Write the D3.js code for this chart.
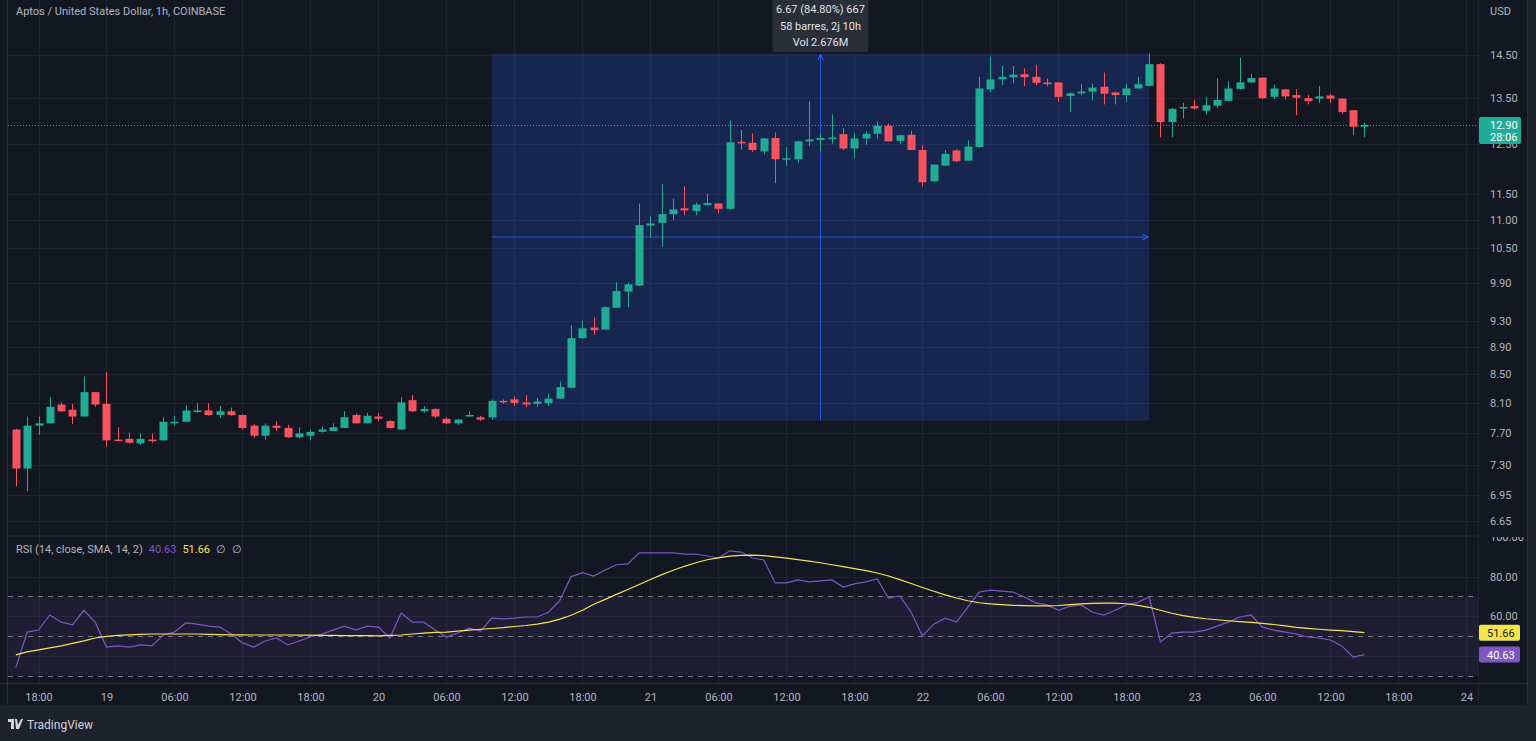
<!DOCTYPE html>
<html>
<head>
<meta charset="utf-8">
<script src="https://cdn.jsdelivr.net/npm/d3@7"></script>
<style>
  html, body { margin: 0; padding: 0; background: #131722; overflow: hidden; }
  svg { display: block; font-family: Roboto, "Noto Sans", sans-serif; }
</style>
</head>
<body>
<svg id="chart"></svg>
<script>
// one bar per hour, first bar = 16:00 on the 18th (hour -2 relative to 18:00)
const firstHour = -2;

const open = [
    7.75, 7.26, 7.80, 7.83, 8.08, 8.01, 7.92, 8.25, 8.09, 7.62,
    7.63, 7.57, 7.62, 7.61, 7.83, 7.85, 7.98, 8.00, 7.94, 7.99,
    7.94, 7.80, 7.67, 7.80, 7.77, 7.65, 7.67, 7.72, 7.73, 7.77,
    7.94, 7.83, 7.92, 7.86, 7.75, 8.14, 7.99, 8.02, 7.89, 7.83,
    7.93, 7.91, 7.91, 8.13, 8.15, 8.11, 8.09, 8.10, 8.16, 8.31,
    9.03, 9.19, 9.16, 9.50, 9.76, 9.86, 10.90, 10.95, 11.11, 11.22,
    11.17, 11.28, 11.31, 11.21, 12.54, 12.52, 12.34, 12.62, 12.18, 12.18,
    12.55, 12.58, 12.61, 12.70, 12.40, 12.61, 12.71, 12.88, 12.56, 12.69,
    12.37, 11.74, 12.05, 12.36, 12.15, 12.43, 13.69, 13.92, 13.97, 14.04,
    13.98, 13.85, 13.85, 13.54, 13.60, 13.64, 13.75, 13.62, 13.56, 13.71,
    13.77, 14.28, 12.96, 13.27, 13.31, 13.21, 13.32, 13.43, 13.70, 13.85,
    13.96, 13.52, 13.69, 13.56, 13.49, 13.48, 13.55, 13.48, 13.22, 12.86
];
const high = [
    7.76, 7.92, 7.92, 8.18, 8.11, 8.09, 8.47, 8.25, 8.53, 7.78,
    7.71, 7.70, 7.70, 7.91, 7.93, 8.07, 8.10, 8.10, 8.06, 8.04,
    7.95, 7.82, 7.83, 7.86, 7.81, 7.78, 7.75, 7.79, 7.83, 7.99,
    7.96, 7.97, 7.97, 7.87, 8.18, 8.21, 8.06, 8.03, 7.91, 7.89,
    7.99, 7.93, 8.15, 8.15, 8.19, 8.21, 8.17, 8.23, 8.40, 9.23,
    9.30, 9.35, 9.52, 9.91, 9.91, 11.31, 11.07, 11.68, 11.40, 11.64,
    11.33, 11.50, 11.32, 13.00, 12.79, 12.72, 12.62, 12.74, 12.43, 12.56,
    13.42, 12.72, 13.13, 12.83, 12.72, 12.76, 12.97, 12.93, 12.69, 12.78,
    12.47, 12.08, 12.37, 12.38, 12.57, 13.98, 14.46, 14.24, 14.24, 14.18,
    14.26, 13.94, 13.86, 13.62, 13.82, 13.82, 14.08, 13.64, 13.82, 13.98,
    14.54, 14.30, 13.27, 13.38, 13.45, 13.51, 13.94, 13.88, 14.44, 14.05,
    13.97, 13.80, 13.70, 13.69, 13.56, 13.77, 13.58, 13.48, 13.22, 12.95
];
const low = [
    7.05, 6.99, 7.68, 7.83, 7.98, 7.82, 7.92, 8.05, 7.53, 7.60,
    7.57, 7.55, 7.58, 7.61, 7.80, 7.85, 7.97, 7.93, 7.90, 7.93,
    7.75, 7.64, 7.62, 7.73, 7.64, 7.64, 7.61, 7.71, 7.73, 7.77,
    7.83, 7.83, 7.86, 7.76, 7.74, 7.98, 7.97, 7.90, 7.82, 7.81,
    7.92, 7.86, 7.88, 8.09, 8.06, 8.05, 8.05, 8.06, 8.16, 8.30,
    9.02, 9.08, 9.15, 9.50, 9.51, 9.85, 10.68, 10.52, 11.00, 11.09,
    11.09, 11.27, 11.13, 11.19, 12.38, 12.33, 12.28, 11.70, 12.04, 12.11,
    12.45, 12.34, 12.50, 12.37, 12.19, 12.48, 12.61, 12.55, 12.50, 12.37,
    11.64, 11.72, 12.04, 12.12, 12.15, 12.42, 13.63, 13.79, 13.83, 13.76,
    13.79, 13.76, 13.40, 13.18, 13.56, 13.44, 13.35, 13.35, 13.40, 13.71,
    13.76, 12.64, 12.64, 13.04, 13.23, 13.13, 13.27, 13.42, 13.69, 13.84,
    13.46, 13.47, 13.46, 13.11, 13.35, 13.38, 13.38, 13.14, 12.68, 12.64
];
const close = [
    7.26, 7.80, 7.83, 8.05, 7.99, 7.92, 8.25, 8.08, 7.61, 7.61,
    7.58, 7.63, 7.60, 7.85, 7.85, 8.00, 8.00, 7.94, 7.99, 7.94,
    7.77, 7.67, 7.80, 7.77, 7.65, 7.70, 7.72, 7.75, 7.78, 7.91,
    7.83, 7.93, 7.89, 7.77, 8.11, 7.99, 8.02, 7.92, 7.83, 7.88,
    7.94, 7.88, 8.13, 8.11, 8.10, 8.08, 8.12, 8.16, 8.32, 9.03,
    9.18, 9.15, 9.51, 9.77, 9.88, 10.91, 10.94, 11.11, 11.20, 11.18,
    11.29, 11.32, 11.21, 12.53, 12.51, 12.37, 12.61, 12.18, 12.20, 12.55,
    12.59, 12.62, 12.63, 12.40, 12.61, 12.71, 12.88, 12.55, 12.68, 12.37,
    11.72, 12.07, 12.29, 12.14, 12.44, 13.71, 13.92, 13.98, 14.03, 13.97,
    13.84, 13.81, 13.52, 13.60, 13.64, 13.73, 13.59, 13.56, 13.71, 13.81,
    14.28, 12.96, 13.25, 13.29, 13.26, 13.33, 13.45, 13.71, 13.85, 13.95,
    13.49, 13.71, 13.53, 13.50, 13.42, 13.53, 13.48, 13.18, 12.86, 12.90
];
const rsi = [
    34.0, 52.0, 53.0, 60.6, 57.0, 55.6, 63.0, 57.0, 44.4, 45.0,
    44.4, 45.5, 45.0, 50.5, 52.0, 56.6, 56.0, 55.0, 54.5, 51.0,
    46.5, 44.4, 47.5, 49.0, 45.5, 47.5, 49.5, 51.0, 53.0, 55.0,
    53.0, 55.0, 54.5, 49.0, 61.6, 57.0, 57.0, 53.0, 49.5, 51.5,
    54.0, 52.5, 59.0, 58.6, 59.0, 59.6, 59.6, 62.0, 68.0, 80.0,
    82.0, 80.3, 83.3, 86.0, 86.4, 92.0, 92.0, 92.0, 92.0, 91.4,
    91.4, 90.4, 89.4, 93.0, 92.4, 89.4, 88.4, 76.8, 76.8, 78.3,
    77.3, 77.8, 78.3, 74.7, 76.3, 77.3, 78.8, 69.2, 70.2, 62.0,
    50.0, 56.0, 59.0, 57.0, 64.6, 72.2, 73.2, 72.7, 72.2, 69.7,
    66.7, 65.7, 63.0, 65.0, 65.7, 62.0, 60.6, 63.0, 65.7, 67.0,
    69.7, 47.0, 51.5, 52.0, 52.0, 53.0, 55.0, 57.0, 59.6, 60.6,
    54.5, 53.0, 52.0, 51.0, 49.5, 49.0, 48.0, 45.0, 39.4, 40.63
];
const rsiSma = [
    40.5, 42.0, 43.0, 44.0, 45.0, 46.3, 47.5, 49.0, 49.8, 50.3,
    50.6, 50.8, 51.0, 51.0, 51.0, 51.0, 51.0, 50.8, 50.7, 50.6,
    50.6, 50.5, 50.5, 50.5, 50.5, 50.4, 50.4, 50.3, 50.3, 50.2,
    50.2, 50.2, 50.1, 50.3, 50.5, 51.0, 51.5, 51.8, 52.0, 52.5,
    53.0, 53.4, 53.8, 54.2, 54.8, 55.3, 56.0, 57.0, 58.5, 60.5,
    63.0, 66.0, 68.5, 71.0, 73.5, 76.0, 78.5, 81.0, 83.2, 85.2,
    87.0, 88.5, 89.5, 90.3, 90.7, 90.8, 90.6, 90.0, 89.3, 88.6,
    87.8, 87.0, 86.0, 85.0, 84.0, 83.0, 81.8, 80.3, 78.5, 76.5,
    74.5, 72.6, 70.8, 69.2, 67.8, 66.8, 66.2, 65.8, 65.5, 65.3,
    65.2, 65.2, 65.4, 65.8, 66.2, 66.5, 66.6, 66.6, 66.3, 65.5,
    64.5, 63.0, 61.5, 60.3, 59.4, 58.7, 58.2, 57.7, 57.3, 56.9,
    56.4, 55.8, 55.1, 54.4, 53.9, 53.4, 53.0, 52.7, 52.2, 51.66
];

const priceTicks = [14.5, 13.5, 12.5, 11.5, 11.0, 10.5, 9.9, 9.3, 8.9, 8.5, 8.1, 7.7, 7.3, 6.95, 6.65];
const rsiTicks = [100, 80, 60, 40];
const timeTickHours = [0, 6, 12, 18, 24, 30, 36, 42, 48, 54, 60, 66, 72, 78, 84, 90, 96, 102, 108, 114, 120, 126];
const timeTickLabels = ["18:00", "19", "06:00", "12:00", "18:00", "20", "06:00", "12:00", "18:00", "21", "06:00",
                        "12:00", "18:00", "22", "06:00", "12:00", "18:00", "23", "06:00", "12:00", "18:00", "24"];

// price range tool
const rangeFromHour = 40, rangeToHour = 98;
const rangeLow = 7.866, rangeHigh = 14.536;
const rangeText = ["6.67 (84.80%) 667", "58 barres, 2j 10h", "Vol 2.676M"];

const title = "Aptos / United States Dollar, 1h, COINBASE";
const lastPrice = 12.90, countdown = "28:06";

// layout
const W = 1536, H = 741;
const left = 8, right = 1478;
const mainTop = 0, mainBottom = 535;
const rsiTop = 537, rsiBottom = 683;
const axisBottom = 705;

const upColor = "#22ab94", downColor = "#f7525f";
const textColor = "#b2b5be", gridColor = "#1f2431";

const bars = open.map((o, i) => ({
    hour: firstHour + i, open: o, high: high[i], low: low[i], close: close[i],
    rsi: rsi[i], sma: rsiSma[i]
}));

const x = d3.scaleLinear().domain([0, 126]).range([38.5, 38.5 + 126 * 11.333]);
const y = d3.scaleLog().domain([6.65, 14.5]).range([521, 55]);
const yr = d3.scaleLinear().domain([0, 100]).range([735, 537]);

const svg = d3.select("#chart").attr("width", W).attr("height", H);

// backgrounds
svg.append("rect").attr("width", W).attr("height", H).attr("fill", "#1e222d");
svg.append("rect").attr("x", 0).attr("y", 0).attr("width", 1528).attr("height", axisBottom).attr("fill", "#131722");

const defs = svg.append("defs");
defs.append("clipPath").attr("id", "mainClip").append("rect")
    .attr("x", left).attr("y", mainTop).attr("width", right - left).attr("height", mainBottom - mainTop);
defs.append("clipPath").attr("id", "rsiClip").append("rect")
    .attr("x", left).attr("y", rsiTop).attr("width", right - left).attr("height", rsiBottom - rsiTop);
defs.append("clipPath").attr("id", "rsiAxisClip").append("rect")
    .attr("x", right).attr("y", rsiTop).attr("width", 50).attr("height", rsiBottom - rsiTop);
defs.append("marker").attr("id", "arrow").attr("viewBox", "0 0 10 10")
    .attr("refX", 9).attr("refY", 5).attr("markerWidth", 7).attr("markerHeight", 7)
    .attr("orient", "auto-start-reverse")
    .append("path").attr("d", "M1,1 L9,5 L1,9").attr("fill", "none").attr("stroke", "#2962ff").attr("stroke-width", 1.5);

// grid lines
const grid = svg.append("g");
grid.selectAll("line.hg").data(priceTicks).enter().append("line")
    .attr("x1", left).attr("x2", right)
    .attr("y1", d => Math.round(y(d)) + 0.5).attr("y2", d => Math.round(y(d)) + 0.5)
    .attr("stroke", gridColor);
grid.selectAll("line.rg").data([80, 60, 40]).enter().append("line")
    .attr("x1", left).attr("x2", right)
    .attr("y1", d => Math.round(yr(d)) + 0.5).attr("y2", d => Math.round(yr(d)) + 0.5)
    .attr("stroke", gridColor);
grid.selectAll("line.vg").data(timeTickHours).enter().append("line")
    .attr("x1", d => Math.round(x(d)) + 0.5).attr("x2", d => Math.round(x(d)) + 0.5)
    .attr("y1", mainTop).attr("y2", rsiBottom)
    .attr("stroke", gridColor);

// pane borders
svg.append("line").attr("x1", left).attr("x2", right).attr("y1", 536).attr("y2", 536).attr("stroke", "#2a2e39");
svg.append("line").attr("x1", 0).attr("x2", 1528).attr("y1", rsiBottom + 0.5).attr("y2", rsiBottom + 0.5).attr("stroke", "#2a2e39");
svg.append("line").attr("x1", left - 0.5).attr("x2", left - 0.5).attr("y1", 0).attr("y2", axisBottom).attr("stroke", "#2a2e39");
svg.append("line").attr("x1", right + 0.5).attr("x2", right + 0.5).attr("y1", 0).attr("y2", axisBottom).attr("stroke", "#1f2431");
svg.append("line").attr("x1", 1527.5).attr("x2", 1527.5).attr("y1", 0).attr("y2", axisBottom).attr("stroke", "#2a2e39");

const main = svg.append("g").attr("clip-path", "url(#mainClip)");

// price range box
const rx0 = x(rangeFromHour), rx1 = x(rangeToHour);
const ry0 = y(rangeHigh), ry1 = y(rangeLow);
main.append("rect").attr("x", rx0).attr("y", ry0).attr("width", rx1 - rx0).attr("height", ry1 - ry0)
    .attr("fill", "rgba(41,98,255,0.2)");
main.append("line").attr("x1", (rx0 + rx1) / 2).attr("x2", (rx0 + rx1) / 2).attr("y1", ry1).attr("y2", ry0 + 1)
    .attr("stroke", "#2962ff").attr("stroke-opacity", 0.8).attr("marker-end", "url(#arrow)");
main.append("line").attr("x1", rx0).attr("x2", rx1 - 1).attr("y1", (ry0 + ry1) / 2).attr("y2", (ry0 + ry1) / 2)
    .attr("stroke", "#2962ff").attr("stroke-opacity", 0.8).attr("marker-end", "url(#arrow)");

// last price line
main.append("line").attr("x1", left).attr("x2", right)
    .attr("y1", Math.round(y(lastPrice)) + 0.5).attr("y2", Math.round(y(lastPrice)) + 0.5)
    .attr("stroke", upColor).attr("stroke-dasharray", "1,2");

// candles
const candle = main.selectAll("g.candle").data(bars).enter().append("g")
    .attr("fill", d => d.close >= d.open ? upColor : downColor)
    .attr("stroke", d => d.close >= d.open ? upColor : downColor);
candle.append("line")
    .attr("x1", d => Math.round(x(d.hour)) + 0.5).attr("x2", d => Math.round(x(d.hour)) + 0.5)
    .attr("y1", d => y(d.high)).attr("y2", d => y(d.low));
candle.append("rect")
    .attr("x", d => Math.round(x(d.hour)) - 3.5)
    .attr("width", 8)
    .attr("y", d => y(Math.max(d.open, d.close)))
    .attr("height", d => Math.max(1.5, Math.abs(y(d.open) - y(d.close))))
    .attr("stroke", "none");

// price axis
const yAxis = d3.axisRight(y).tickValues(priceTicks).tickFormat(d3.format(".2f")).tickSize(0).tickPadding(12);
const yAxisG = svg.append("g").attr("transform", `translate(${right},0)`).call(yAxis);
yAxisG.select(".domain").remove();
yAxisG.selectAll("text").attr("fill", textColor).attr("font-size", 11).attr("font-family", "Roboto, sans-serif");
svg.append("text").attr("x", 1490).attr("y", 15).text("USD").attr("fill", textColor).attr("font-size", 11);

// last price label
const lpY = y(lastPrice);
svg.append("rect").attr("x", right + 1).attr("y", lpY - 8).attr("width", 42).attr("height", 27).attr("rx", 2).attr("fill", upColor);
svg.append("text").attr("x", right + 12).attr("y", lpY + 4).text(d3.format(".2f")(lastPrice))
    .attr("fill", "#fff").attr("font-size", 11);
svg.append("text").attr("x", right + 12).attr("y", lpY + 16).text(countdown)
    .attr("fill", "#fff").attr("font-size", 11);

// RSI pane
const rsiG = svg.append("g").attr("clip-path", "url(#rsiClip)");
rsiG.append("rect").attr("x", left).attr("width", right - left)
    .attr("y", yr(70)).attr("height", yr(30) - yr(70)).attr("fill", "rgba(126,87,194,0.1)");
rsiG.selectAll("line.band").data([70, 50, 30]).enter().append("line")
    .attr("x1", left).attr("x2", right)
    .attr("y1", d => Math.round(yr(d)) + 0.5).attr("y2", d => Math.round(yr(d)) + 0.5)
    .attr("stroke", "#787b86").attr("stroke-dasharray", "5,5");
rsiG.append("path").datum(bars)
    .attr("d", d3.line().x(d => x(d.hour)).y(d => yr(d.rsi)))
    .attr("fill", "none").attr("stroke", "#7e57c2").attr("stroke-width", 1.2);
rsiG.append("path").datum(bars)
    .attr("d", d3.line().x(d => x(d.hour)).y(d => yr(d.sma)))
    .attr("fill", "none").attr("stroke", "#f7e44b").attr("stroke-width", 1.2);

const rAxis = d3.axisRight(yr).tickValues(rsiTicks).tickFormat(d3.format(".2f")).tickSize(0).tickPadding(12);
const rAxisG = svg.append("g").attr("clip-path", "url(#rsiAxisClip)")
    .append("g").attr("transform", `translate(${right},0)`).call(rAxis);
rAxisG.select(".domain").remove();
rAxisG.selectAll("text").attr("fill", textColor).attr("font-size", 11).attr("font-family", "Roboto, sans-serif");

const lastRsi = rsi[rsi.length - 1], lastSma = rsiSma[rsiSma.length - 1];
[[lastSma, "#f7e44b", "#131722"], [lastRsi, "#7e57c2", "#fff"]].forEach(([v, bg, fg]) => {
    svg.append("rect").attr("x", right + 1).attr("y", yr(v) - 8).attr("width", 41).attr("height", 16).attr("rx", 2).attr("fill", bg);
    svg.append("text").attr("x", right + 9).attr("y", yr(v) + 4).text(d3.format(".2f")(v)).attr("fill", fg).attr("font-size", 11);
});

// RSI legend
const legend = svg.append("text").attr("x", 16).attr("y", 553).attr("font-size", 11);
legend.append("tspan").text("RSI (14, close, SMA, 14, 2)").attr("fill", textColor);
legend.append("tspan").attr("dx", 6).text(d3.format(".2f")(lastRsi)).attr("fill", "#7e57c2");
legend.append("tspan").attr("dx", 6).text(d3.format(".2f")(lastSma)).attr("fill", "#f7e44b");
legend.append("tspan").attr("dx", 6).text("∅").attr("fill", textColor);
legend.append("tspan").attr("dx", 6).text("∅").attr("fill", textColor);

// time axis
const xAxis = d3.axisBottom(x).tickValues(timeTickHours).tickFormat((d, i) => timeTickLabels[i]).tickSize(0).tickPadding(10);
const xAxisG = svg.append("g").attr("transform", `translate(0,${rsiBottom})`).call(xAxis);
xAxisG.select(".domain").remove();
xAxisG.selectAll("text").attr("fill", textColor).attr("font-size", 11).attr("font-family", "Roboto, sans-serif");

// title
svg.append("text").attr("x", 16).attr("y", 15).text(title).attr("fill", textColor).attr("font-size", 11);

// range tool label
const cx = (rx0 + rx1) / 2;
svg.append("rect").attr("x", cx - 48).attr("y", -4).attr("width", 96).attr("height", 56).attr("rx", 3).attr("fill", "#2a2e39");
svg.selectAll("text.range").data(rangeText).enter().append("text")
    .attr("x", cx).attr("y", (d, i) => 13 + i * 16.5).attr("text-anchor", "middle")
    .text(d => d).attr("fill", "#e0e3eb").attr("font-size", 11);

// TradingView mark
const logo = svg.append("g").attr("transform", "translate(8,719)");
logo.append("path").attr("d", "M0,0 H6 V10 H3 V3 H0 Z M7,0 H9 L10,6 L13,0 H15 L11,10 H8 Z").attr("fill", "#d1d4dc");
svg.append("text").attr("x", 27).attr("y", 729).text("TradingView").attr("fill", "#d1d4dc").attr("font-size", 12);
</script>
</body>
</html>
